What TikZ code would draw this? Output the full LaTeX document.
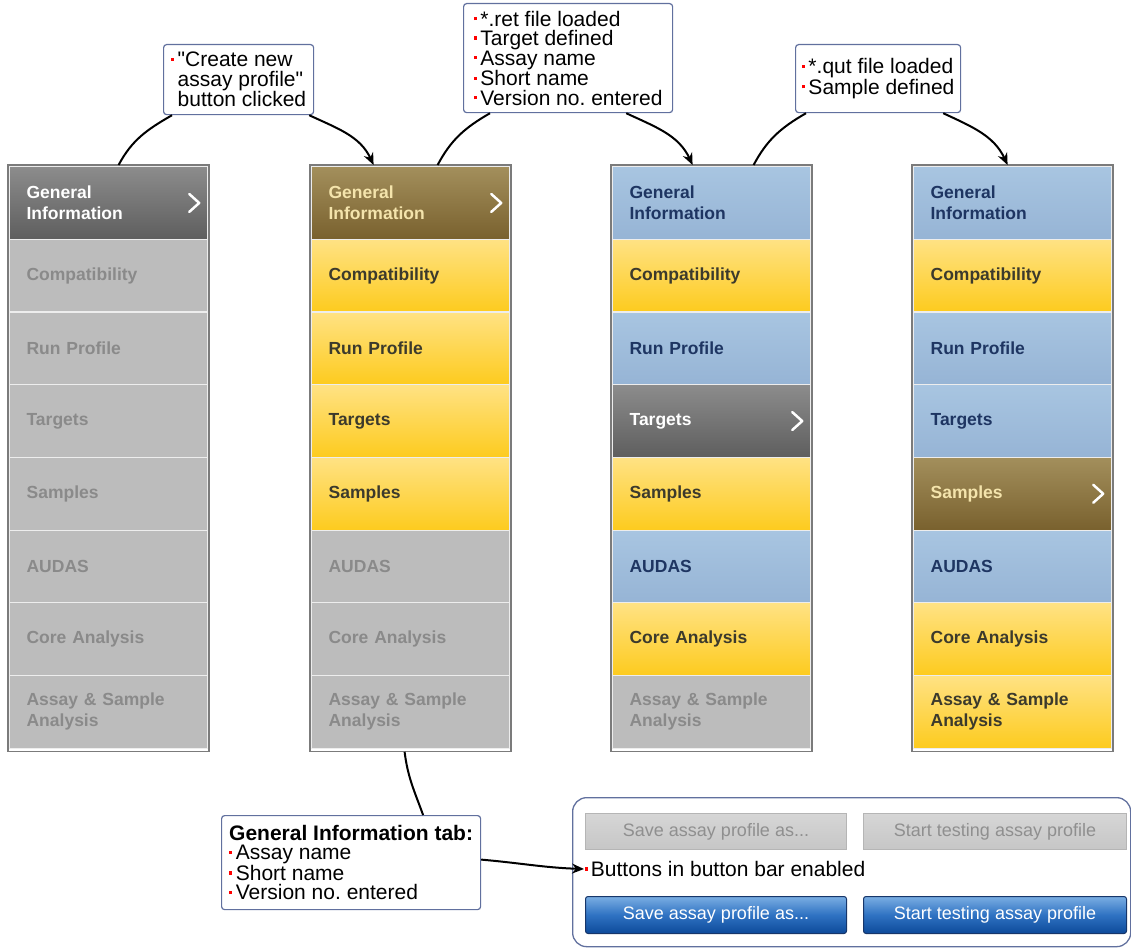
\documentclass[tikz,border=0pt]{standalone}
\usepackage{fontspec}
\setmainfont{Liberation Sans}[Ligatures=TeXOff]
\usetikzlibrary{calc,arrows.meta}
\definecolor{disfill}{HTML}{BCBCBC}
\definecolor{distext}{HTML}{8A8A8A}
\definecolor{actTop}{HTML}{8C8C8C}
\definecolor{actBot}{HTML}{5E5E5E}
\definecolor{brnTop}{HTML}{A38F5C}
\definecolor{brnBot}{HTML}{79612E}
\definecolor{brnText}{HTML}{F4E4AC}
\definecolor{yelTop}{HTML}{FFE284}
\definecolor{yelBot}{HTML}{FDCB1E}
\definecolor{yelText}{HTML}{3C3A2C}
\definecolor{bluTop}{HTML}{A8C5E1}
\definecolor{bluBot}{HTML}{96B4D5}
\definecolor{bluText}{HTML}{1E3562}
\definecolor{rowsep}{HTML}{EDEDED}
\definecolor{frameg}{HTML}{7B7B7B}
\definecolor{callb}{HTML}{61709E}
\definecolor{gbTop}{HTML}{D6D6D6}
\definecolor{gbBot}{HTML}{C6C6C6}
\definecolor{gbBorder}{HTML}{B5B5B5}
\definecolor{gbText}{HTML}{8F8F8F}
\definecolor{bbTop}{HTML}{7AAEE3}
\definecolor{bbMid}{HTML}{2F72C2}
\definecolor{bbBot}{HTML}{0D4A9A}
\definecolor{bbBorder}{HTML}{17366A}
\newcommand\rb{\textcolor{red}{\rule[0.28em]{3.2pt}{3.2pt}}\hspace{3.5pt}}
\newcommand\tabrow[5]{\node[rowbase,#4] (#1) at ({#2+1},{-166-72.7*#3}) {#5};}
\newcommand\chev[1]{\draw[chevron] ($(#1.east)+(-19,9)$) -- ++(10,-9) -- ++(-10,-9);}
\newcommand\colframe[2]{\draw[frame] ($(#1.north west)+(-1,1)$) rectangle ($(#2.south east)+(1,-2.5)$);}
\begin{document}
\begin{tikzpicture}[x=1pt,y=1pt,
  rowbase/.style={anchor=north west, minimum width=198pt, minimum height=72.7pt,
    text width=164pt, inner xsep=17pt, inner ysep=0pt, align=left,
    font=\fontsize{17.5}{21}\selectfont\bfseries, draw=rowsep, line width=1.2pt},
  dis/.style={fill=disfill, text=distext},
  act/.style={top color=actTop, bottom color=actBot, text=white},
  brn/.style={top color=brnTop, bottom color=brnBot, text=brnText},
  yel/.style={top color=yelTop, bottom color=yelBot, text=yelText},
  blu/.style={top color=bluTop, bottom color=bluBot, text=bluText},
  chevron/.style={draw=white, line width=2.5pt, line cap=round, line join=round},
  frame/.style={draw=frameg, line width=1.5pt},
  callout/.style={draw=callb, fill=white, line width=1.2pt, rounded corners=3pt,
    anchor=north west, inner xsep=5pt, inner ysep=0pt, align=left,
    font=\fontsize{21}{19.5}\selectfont\frenchspacing},
  conn/.style={draw=black, line width=2pt},
  arr/.style={-{Stealth[length=12pt,width=10pt]}},
  gbtn/.style={anchor=north west, top color=gbTop, bottom color=gbBot, draw=gbBorder,
    line width=1pt, text=gbText, font=\fontsize{18}{20}\selectfont, inner sep=0pt},
  bbtn/.style={anchor=north west, top color=bbTop, bottom color=bbBot, middle color=bbMid,
    draw=bbBorder, line width=1pt, text=white, font=\fontsize{18}{20}\selectfont, inner sep=0pt, rounded corners=2.5pt}
]
\useasboundingbox (0,0) rectangle (1131,-950);

% ---- column 1
\tabrow{c1r0}{8}{0}{act}{General\\Information}
\tabrow{c1r1}{8}{1}{dis}{Compatibility}
\tabrow{c1r2}{8}{2}{dis}{Run Profile}
\tabrow{c1r3}{8}{3}{dis}{Targets}
\tabrow{c1r4}{8}{4}{dis}{Samples}
\tabrow{c1r5}{8}{5}{dis}{AUDAS}
\tabrow{c1r6}{8}{6}{dis}{Core Analysis}
\tabrow{c1r7}{8}{7}{dis}{Assay \& Sample\\Analysis}
\colframe{c1r0}{c1r7}
\chev{c1r0}

% ---- column 2
\tabrow{c2r0}{310}{0}{brn}{General\\Information}
\tabrow{c2r1}{310}{1}{yel}{Compatibility}
\tabrow{c2r2}{310}{2}{yel}{Run Profile}
\tabrow{c2r3}{310}{3}{yel}{Targets}
\tabrow{c2r4}{310}{4}{yel}{Samples}
\tabrow{c2r5}{310}{5}{dis}{AUDAS}
\tabrow{c2r6}{310}{6}{dis}{Core Analysis}
\tabrow{c2r7}{310}{7}{dis}{Assay \& Sample\\Analysis}
\colframe{c2r0}{c2r7}
\chev{c2r0}

% ---- column 3
\tabrow{c3r0}{611}{0}{blu}{General\\Information}
\tabrow{c3r1}{611}{1}{yel}{Compatibility}
\tabrow{c3r2}{611}{2}{blu}{Run Profile}
\tabrow{c3r3}{611}{3}{act}{Targets}
\tabrow{c3r4}{611}{4}{yel}{Samples}
\tabrow{c3r5}{611}{5}{blu}{AUDAS}
\tabrow{c3r6}{611}{6}{yel}{Core Analysis}
\tabrow{c3r7}{611}{7}{dis}{Assay \& Sample\\Analysis}
\colframe{c3r0}{c3r7}
\chev{c3r3}

% ---- column 4
\tabrow{c4r0}{912}{0}{blu}{General\\Information}
\tabrow{c4r1}{912}{1}{yel}{Compatibility}
\tabrow{c4r2}{912}{2}{blu}{Run Profile}
\tabrow{c4r3}{912}{3}{blu}{Targets}
\tabrow{c4r4}{912}{4}{brn}{Samples}
\tabrow{c4r5}{912}{5}{blu}{AUDAS}
\tabrow{c4r6}{912}{6}{yel}{Core Analysis}
\tabrow{c4r7}{912}{7}{yel}{Assay \& Sample\\Analysis}
\colframe{c4r0}{c4r7}
\chev{c4r4}

% ---- callouts
\node[callout, minimum width=150pt, minimum height=70pt] (cb1) at (163,-44)
  {\rb"Create new\\\phantom{\rb}assay profile"\\\phantom{\rb}button clicked};
\node[callout, minimum width=209pt, minimum height=109pt] (cb2) at (463,-3)
  {\rb*.ret file loaded\\\rb Target defined\\\rb Assay name\\\rb Short name\\\rb Version no. entered};
\node[callout, minimum width=165pt, minimum height=68pt] (cb3) at (795,-44)
  {\rb*.qut file loaded\\\rb Sample defined};
\node[callout, minimum width=259pt, minimum height=94pt] (cb4) at (221,-815)
  {{\bfseries General Information tab:}\\\rb Assay name\\\rb Short name\\\rb Version no. entered};

% ---- button panel
\node[draw=callb, line width=1.3pt, rounded corners=14pt, anchor=north west,
  minimum width=558pt, minimum height=149pt, inner sep=0pt] (panel) at (572,-797) {};
\node[gbtn, minimum width=261pt, minimum height=36pt] (g1) at (585,-813) {Save assay profile as...};
\node[gbtn, minimum width=263pt, minimum height=36pt] (g2) at (863,-813) {Start testing assay profile};
\node[bbtn, minimum width=261pt, minimum height=37pt] (b1) at (585,-896) {Save assay profile as...};
\node[bbtn, minimum width=263pt, minimum height=37pt] (b2) at (863,-896) {Start testing assay profile};
\node[anchor=west, inner sep=0pt, font=\fontsize{21}{22}\selectfont] (bartext) at (585,-869)
  {\textcolor{red}{\rule[0.28em]{3.2pt}{3.2pt}}\hspace{2.5pt}Buttons in button bar enabled};

% ---- connectors
\draw[conn] ($(c1r0.north)+(10,1)$) to[out=62,in=210] ($(cb1.south west)+(9,0)$);
\draw[conn,arr] ($(cb1.south east)+(-5,0)$) to[out=-25,in=115] ($(c2r0.north)+(-37,1)$);
\draw[conn] ($(c2r0.north)+(27,1)$) to[out=62,in=210] ($(cb2.south west)+(27,0)$);
\draw[conn,arr] ($(cb2.south east)+(-47,0)$) to[out=-25,in=115] ($(c3r0.north)+(-19,1)$);
\draw[conn] ($(c3r0.north)+(42,1)$) to[out=62,in=210] ($(cb3.south west)+(11,0)$);
\draw[conn,arr] ($(cb3.south east)+(-18,0)$) to[out=-25,in=115] ($(c4r0.north)+(-5,1)$);
\draw[conn] ($(c2r7.south)+(-6,-3)$) to[out=-83,in=110] ($(cb4.north)+(72,0)$);
\draw[conn,arr] ($(cb4.east)+(0,3)$) to[out=-5,in=178] ($(bartext.west)+(-1,0)$);
\end{tikzpicture}
\end{document}
